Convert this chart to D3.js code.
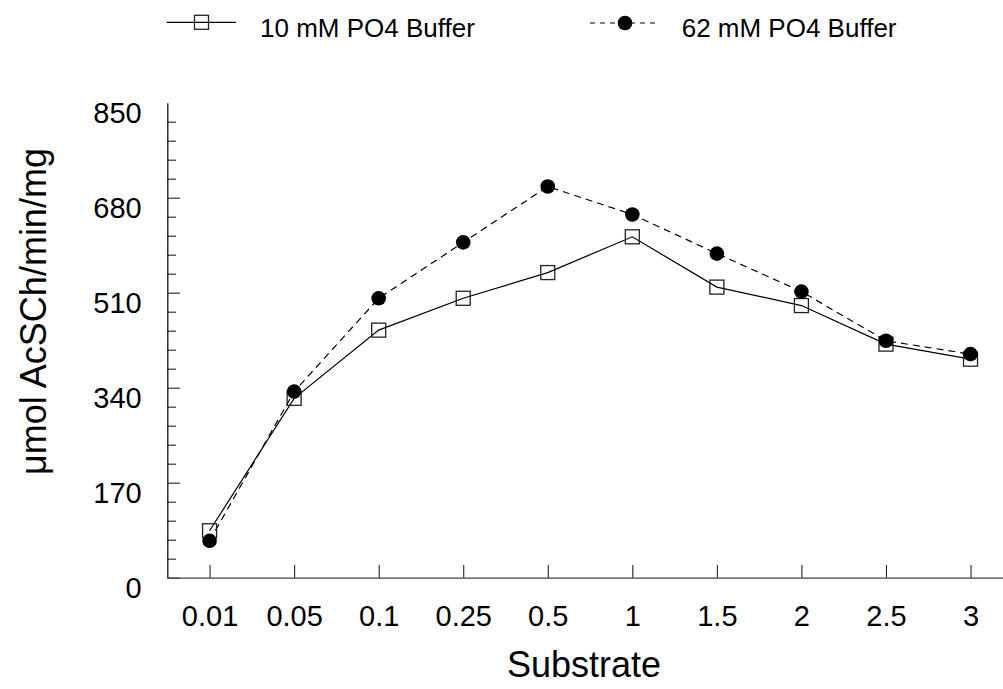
<!DOCTYPE html>
<html>
<head>
<meta charset="utf-8">
<script src="https://cdn.jsdelivr.net/npm/d3@7"></script>
<style>
  html, body { margin: 0; padding: 0; background: #fff; }
  svg { display: block; font-family: "Liberation Sans", Arial, Helvetica, sans-serif; }
</style>
</head>
<body>
<svg id="chart" width="1003" height="689"></svg>
<script>
// Substrate concentrations (category axis)
const categories = ["0.01", "0.05", "0.1", "0.25", "0.5", "1", "1.5", "2", "2.5", "3"];
// Specific activity, µmol AcSCh/min/mg
const buffer10 = [84, 321, 443, 500, 546, 610, 520, 487, 418, 391];
const buffer62 = [66, 333, 500, 600, 700, 650, 580, 512, 424, 400];
const seriesNames = ["10 mM PO4 Buffer", "62 mM PO4 Buffer"];
const yMajorTicks = [0, 170, 340, 510, 680, 850];
const yMinorStep = 34;

const svg = d3.select("#chart");
const axisColor = "#333";

const x = d3.scalePoint().domain(categories).range([167.3, 1012.8]).padding(0.5);
const y = d3.scaleLinear().domain([0, 850]).range([577.7, 102.7]);

// minor ticks on the value axis
const minorVals = d3.range(0, 850, yMinorStep).filter(v => yMajorTicks.indexOf(v) < 0);
svg.append("g")
  .attr("transform", `translate(${x.range()[0]},0)`)
  .call(d3.axisLeft(y).tickValues(minorVals).tickSizeInner(-8.7).tickSizeOuter(0).tickFormat(""))
  .call(g => g.select(".domain").remove())
  .call(g => g.selectAll("line").attr("stroke", axisColor).attr("stroke-width", 1.2));

// major ticks + labels on the value axis
const yAxis = svg.append("g")
  .attr("transform", `translate(${x.range()[0]},0)`)
  .call(d3.axisLeft(y).tickValues(yMajorTicks).tickSizeInner(-12.7).tickSizeOuter(0).tickFormat(d3.format("d")));
yAxis.select(".domain").attr("stroke", "#111").attr("stroke-width", 1.3);
yAxis.selectAll(".tick line").attr("stroke", axisColor).attr("stroke-width", 1.2)
  .filter(d => d === 850).remove();
yAxis.selectAll(".tick text")
  .attr("x", -25.6).attr("y", 20).attr("dy", 0)
  .attr("text-anchor", "end")
  .attr("font-size", 29).attr("fill", "#000")
  .attr("font-family", "Liberation Sans, Arial, sans-serif");

// category axis
const xAxis = svg.append("g")
  .attr("transform", `translate(0,${y(0)})`)
  .call(d3.axisBottom(x).tickSizeInner(-12.7).tickSizeOuter(0));
xAxis.select(".domain").attr("stroke", "#444").attr("stroke-width", 1.3);
xAxis.selectAll(".tick line").attr("stroke", "#222").attr("stroke-width", 1.1);
xAxis.selectAll(".tick text")
  .attr("y", 48).attr("dy", 0)
  .attr("font-size", 29).attr("fill", "#000")
  .attr("font-family", "Liberation Sans, Arial, sans-serif");

// axis titles
svg.append("text")
  .attr("x", 584).attr("y", 677)
  .attr("text-anchor", "middle")
  .attr("font-size", 36)
  .text("Substrate");

svg.append("text")
  .attr("transform", "translate(46,311.5) rotate(-90)")
  .attr("text-anchor", "middle")
  .attr("font-size", 36)
  .text("μmol AcSCh/min/mg");

// series lines
const line = d3.line().x((d, i) => x(categories[i])).y(d => y(d));

svg.append("path")
  .datum(buffer62)
  .attr("d", line)
  .attr("fill", "none")
  .attr("stroke", "#000")
  .attr("stroke-width", 1.2)
  .attr("stroke-dasharray", "7,5");

svg.append("path")
  .datum(buffer10)
  .attr("d", line)
  .attr("fill", "none")
  .attr("stroke", "#000")
  .attr("stroke-width", 1.2);

// markers
const sq = 14;
svg.append("g").selectAll("rect")
  .data(buffer10)
  .join("rect")
  .attr("x", (d, i) => x(categories[i]) - sq / 2)
  .attr("y", d => y(d) - sq / 2)
  .attr("width", sq).attr("height", sq)
  .attr("fill", "none")
  .attr("stroke", "#222")
  .attr("stroke-width", 1.3);

svg.append("g").selectAll("circle")
  .data(buffer62)
  .join("circle")
  .attr("cx", (d, i) => x(categories[i]))
  .attr("cy", d => y(d))
  .attr("r", 7.3)
  .attr("fill", "#000");

// legend
const legend = svg.append("g");
const leg1 = legend.append("g");
leg1.append("line").attr("x1", 166.7).attr("x2", 236).attr("y1", 22.3).attr("y2", 22.3)
  .attr("stroke", "#000").attr("stroke-width", 1.2);
leg1.append("rect").attr("x", 201.5 - sq / 2).attr("y", 22.3 - sq / 2).attr("width", sq).attr("height", sq)
  .attr("fill", "none").attr("stroke", "#222").attr("stroke-width", 1.3);
leg1.append("text").attr("x", 260).attr("y", 36.7).attr("font-size", 26).text(seriesNames[0]);

const leg2 = legend.append("g");
leg2.append("line").attr("x1", 590).attr("x2", 660).attr("y1", 23).attr("y2", 23)
  .attr("stroke", "#000").attr("stroke-width", 1.2).attr("stroke-dasharray", "5,5");
leg2.append("circle").attr("cx", 625).attr("cy", 23).attr("r", 7.3).attr("fill", "#000");
leg2.append("text").attr("x", 681.7).attr("y", 36.7).attr("font-size", 26).text(seriesNames[1]);
</script>
</body>
</html>
